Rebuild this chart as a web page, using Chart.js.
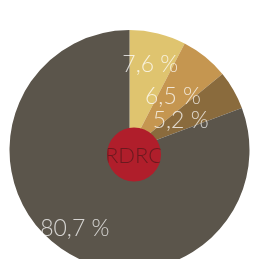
<!DOCTYPE html>
<html>
<head>
<meta charset="utf-8">
<script src="https://cdn.jsdelivr.net/npm/chart.js@4.4.1/dist/chart.umd.min.js"></script>
<style>
  html, body { margin: 0; padding: 0; background: #fff; overflow: hidden; }
  #wrap { position: relative; width: 270px; height: 259px; }
</style>
</head>
<body>
<div id="wrap"><canvas id="rdrcPie"></canvas></div>
<script>
// Datos del gráfico
const categorias = ["A", "B", "C", "D"];
const valores = [7.6, 6.5, 5.2, 80.7];
const etiquetas = ["7,6 %", "6,5 %", "5,2 %", "80,7 %"];
const colores = ['#dfc46f', '#c59650', '#8a6b3d', '#5b554b'];
const textoCentro = "RDRC";

const fuente = 'Lato, "Helvetica Neue", "Open Sans", sans-serif';

// Etiquetas de porcentaje sobre cada porción
const etiquetasPlugin = {
    id: 'etiquetas',
    afterDatasetsDraw(chart, args, opts) {
        const ctx = chart.ctx;
        const meta = chart.getDatasetMeta(0);
        ctx.save();
        ctx.font = '300 23px ' + fuente;
        ctx.fillStyle = 'rgba(255,255,255,0.75)';
        ctx.textAlign = 'center';
        ctx.textBaseline = 'middle';
        meta.data.forEach((arc, i) => {
            const mid = (arc.startAngle + arc.endAngle) / 2;
            const r = opts.radios[i];
            ctx.fillText(etiquetas[i], arc.x + Math.cos(mid) * r, arc.y + Math.sin(mid) * r);
        });
        ctx.restore();
    }
};

// Círculo rojo central con el texto
const centroPlugin = {
    id: 'centro',
    afterDatasetsDraw(chart, args, opts) {
        const ctx = chart.ctx;
        const arc = chart.getDatasetMeta(0).data[0];
        const cx = arc.x + opts.dx, cy = arc.y + opts.dy;
        ctx.save();
        ctx.beginPath();
        ctx.arc(cx, cy, opts.radio, 0, Math.PI * 2);
        ctx.fillStyle = '#b01e2b';
        ctx.fill();
        ctx.clip();
        ctx.font = '300 22px ' + fuente;
        ctx.fillStyle = '#6a1a1f';
        ctx.textAlign = 'center';
        ctx.textBaseline = 'middle';
        ctx.fillText(textoCentro, cx, cy + 1.5);
        ctx.restore();
    }
};

const ctx = document.getElementById('rdrcPie').getContext('2d');
const rdrcPie = new Chart(ctx, {
    type: 'pie',
    data: {
        labels: categorias,
        datasets: [{
            data: valores,
            backgroundColor: colores,
            borderWidth: 0
        }]
    },
    options: {
        responsive: true,
        maintainAspectRatio: false,
        animation: false,
        radius: 120,
        layout: { padding: { left: 0, right: 11, top: 41, bottom: 0 } },
        plugins: {
            legend: { display: false },
            tooltip: { enabled: false },
            etiquetas: { radios: [88, 69, 59, 96] },
            centro: { dx: 4.5, dy: 4.5, radio: 27 }
        }
    },
    plugins: [centroPlugin, etiquetasPlugin]
});
</script>
</body>
</html>
